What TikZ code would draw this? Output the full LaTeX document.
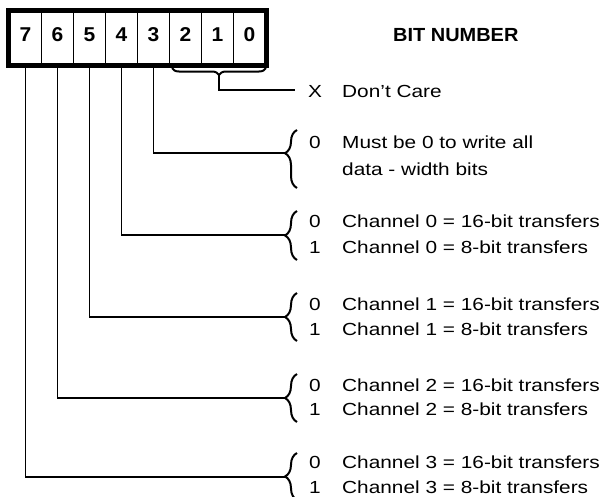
\documentclass[tikz,border=0pt]{standalone}
\usepackage{fontspec}
\setmainfont{Liberation Sans}[FakeStretch=1.19]
\newfontfamily\hdfont{Liberation Sans}[FakeStretch=1.05]
\usetikzlibrary{decorations.pathreplacing}
\begin{document}
\begin{tikzpicture}[x=1pt,y=-1pt,
  cell/.style={draw, line width=1.5pt, minimum width=32pt, minimum height=53pt,
    inner sep=0pt, text depth=6pt, font=\hdfont\bfseries\fontsize{20}{22}\selectfont},
  lead/.style={line width=1.4pt},
  brc/.style={line width=2pt, decorate, decoration={brace, amplitude=12pt}},
  val/.style={anchor=base, inner sep=0pt, font=\fontsize{17.5}{20}\selectfont},
  desc/.style={anchor=base west, inner sep=0pt, font=\fontsize{17.5}{20}\selectfont},
  head/.style={anchor=base west, inner sep=0pt, font=\hdfont\bfseries\fontsize{19}{21}\selectfont}]
\useasboundingbox (0,0) rectangle (608,496);
% bit cells
\node[cell] (b7) at (25.5,38) {7};
\node[cell] (b6) at (57.5,38) {6};
\node[cell] (b5) at (89.5,38) {5};
\node[cell] (b4) at (121.5,38) {4};
\node[cell] (b3) at (153.5,38) {3};
\node[cell] (b2) at (185.5,38) {2};
\node[cell] (b1) at (217.5,38) {1};
\node[cell] (b0) at (249.5,38) {0};
\draw[line width=5pt] (b7.north west) rectangle (b0.south east);
\node[head] (hd) at (393,41) {BIT NUMBER};
% bits 2..0
\coordinate (bA) at (266,68);
\coordinate (bB) at (172,68);
\draw[line width=2pt, decorate, decoration={brace, amplitude=7pt}] (bA) -- (bB);
\coordinate (bt) at (219,75);
\coordinate (xe) at (295,90);
\draw[lead] (bt) |- (xe);
\node[val] (vx) at (315,97) {X};
\node[desc] (dx) at (342,97) {Don’t Care};
% bit 3
\coordinate (t3) at (285,153);
\draw[lead] (b3.south) |- (t3);
\draw[brc, decoration={aspect=0.6}] (297,188) -- (297,130);
\node[val] (v3) at (315,148) {0};
\node[desc] (d3a) at (342,148) {Must be 0 to write all};
\node[desc] (d3b) at (342,175) {data - width bits};
% bit 4
\coordinate (t4) at (285,235);
\draw[lead] (b4.south) |- (t4);
\draw[brc] (297,260) -- (297,211);
\node[val] (v4a) at (315,227) {0};
\node[val] (v4b) at (315,253) {1};
\node[desc] (d4a) at (342,227) {Channel 0 = 16-bit transfers};
\node[desc] (d4b) at (342,253) {Channel 0 = 8-bit transfers};
% bit 5
\coordinate (t5) at (285,317);
\draw[lead] (b5.south) |- (t5);
\draw[brc] (297,341) -- (297,293);
\node[val] (v5a) at (315,310) {0};
\node[val] (v5b) at (315,335) {1};
\node[desc] (d5a) at (342,310) {Channel 1 = 16-bit transfers};
\node[desc] (d5b) at (342,335) {Channel 1 = 8-bit transfers};
% bit 6
\coordinate (t6) at (285,398);
\draw[lead] (b6.south) |- (t6);
\draw[brc] (297,422) -- (297,374);
\node[val] (v6a) at (315,391) {0};
\node[val] (v6b) at (315,415) {1};
\node[desc] (d6a) at (342,391) {Channel 2 = 16-bit transfers};
\node[desc] (d6b) at (342,415) {Channel 2 = 8-bit transfers};
% bit 7
\coordinate (t7) at (285,477);
\draw[lead] (b7.south) |- (t7);
\draw[brc] (297,500) -- (297,453);
\node[val] (v7a) at (315,468) {0};
\node[val] (v7b) at (315,493) {1};
\node[desc] (d7a) at (342,468) {Channel 3 = 16-bit transfers};
\node[desc] (d7b) at (342,493) {Channel 3 = 8-bit transfers};
\end{tikzpicture}
\end{document}
